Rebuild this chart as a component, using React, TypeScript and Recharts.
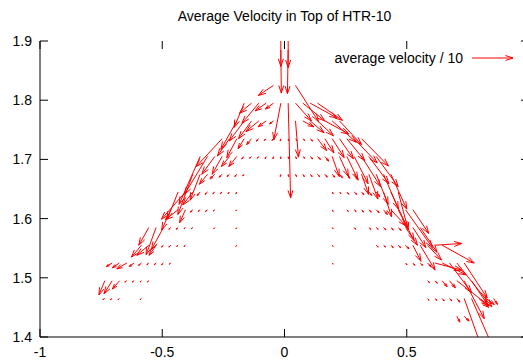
import React from 'react';
import { ComposedChart, XAxis, YAxis, ReferenceLine } from 'recharts';

// each vector: [x, dx, dy] (velocity / 10), grouped by row height
type Vec = [number, number, number];

const xTicks = [-1, -0.5, 0, 0.5];
const yTicks = [1.4, 1.5, 1.6, 1.7, 1.8, 1.9];

const row1915: Vec[] = [[-0.015, 0, -0.058], [0.015, 0, -0.06]];
const row1885: Vec[] = [[-0.015, 0.002, -0.073], [0.015, -0.003, -0.074]];
const row1825: Vec[] = [[-0.045, -0.062, -0.017], [0.045, 0.094, -0.061]];
const row1795: Vec[] = [
  [-0.165, -0.041, -0.041], [-0.135, -0.049, -0.017], [-0.105, -0.069, -0.034],
  [-0.075, -0.045, -0.013], [-0.045, -0.033, -0.01], [-0.015, -0.029, -0.062],
  [0.015, 0.01, -0.16], [0.045, 0.065, -0.03], [0.075, 0.09, -0.03],
  [0.105, 0.11, -0.025], [0.135, 0.102, -0.029],
];
const row1765: Vec[] = [
  [-0.195, -0.065, -0.048], [-0.165, -0.061, -0.034], [-0.135, -0.053, -0.03],
  [-0.105, -0.053, -0.018], [-0.075, -0.033, -0.01], [-0.045, -0.016, -0.005],
  [0.045, 0.012, -0.061], [0.075, 0.045, -0.01], [0.105, 0.057, -0.02],
  [0.135, 0.065, -0.025], [0.165, 0.098, -0.022], [0.195, 0.098, -0.036],
  [0.225, 0.09, -0.04],
];
const row1735: Vec[] = [
  [-0.255, -0.106, -0.047], [-0.225, -0.049, -0.029], [-0.195, -0.041, -0.032],
  [-0.165, -0.025, -0.017], [-0.135, -0.02, -0.01], [-0.105, -0.01, -0.004],
  [-0.075, -0.008, -0.003], [-0.045, -0.006, -0.003], [-0.015, -0.002, -0.004],
  [0.015, 0.002, -0.004], [0.045, 0.006, -0.003], [0.075, 0.008, -0.003],
  [0.105, 0.01, -0.004], [0.135, 0.037, -0.02], [0.165, 0.037, -0.024],
  [0.195, 0.049, -0.032], [0.225, 0.057, -0.034], [0.255, 0.073, -0.037],
  [0.285, 0.094, -0.041], [0.315, 0.11, -0.046],
];
const row1705: Vec[] = [
  [-0.345, -0.086, -0.081], [-0.315, -0.094, -0.064], [-0.285, -0.053, -0.03],
  [-0.255, -0.041, -0.03], [-0.225, -0.033, -0.017], [-0.195, -0.033, -0.017],
  [-0.165, -0.01, -0.004], [-0.135, -0.008, -0.003], [-0.105, -0.006, -0.003],
  [-0.075, -0.004, -0.004], [-0.045, -0.002, -0.004], [-0.015, -0.001, -0.004],
  [0.015, 0.002, -0.004], [0.045, 0.004, -0.004], [0.075, 0.008, -0.003],
  [0.105, 0.01, -0.004], [0.135, 0.012, -0.005], [0.165, 0.016, -0.008],
  [0.195, 0.029, -0.034], [0.225, 0.037, -0.034], [0.255, 0.045, -0.039],
  [0.285, 0.057, -0.046], [0.315, 0.078, -0.051], [0.345, 0.082, -0.046],
  [0.375, 0.09, -0.051],
];
const row1675: Vec[] = [
  [-0.375, -0.061, -0.068], [-0.345, -0.041, -0.044], [-0.315, -0.033, -0.017],
  [-0.285, -0.02, -0.008], [-0.255, -0.012, -0.005], [-0.225, -0.01, -0.004],
  [-0.195, -0.008, -0.004], [-0.165, -0.006, -0.003], [-0.015, -0.002, -0.004],
  [0.015, 0.002, -0.004], [0.045, 0.004, -0.004], [0.075, 0.006, -0.004],
  [0.105, 0.008, -0.004], [0.135, 0.008, -0.004], [0.165, 0.01, -0.005],
  [0.195, 0.01, -0.005], [0.225, 0.012, -0.006], [0.255, 0.012, -0.007],
  [0.285, 0.016, -0.01], [0.315, 0.029, -0.034], [0.345, 0.037, -0.042],
  [0.375, 0.049, -0.051], [0.405, 0.061, -0.059], [0.435, 0.065, -0.059],
];
const row1645: Vec[] = [
  [-0.435, -0.045, -0.046], [-0.405, -0.098, -0.046], [-0.375, -0.041, -0.022],
  [-0.345, -0.012, -0.006], [-0.315, -0.01, -0.004], [-0.285, -0.008, -0.003],
  [-0.255, -0.008, -0.003], [-0.225, -0.006, -0.003], [-0.195, -0.004, -0.003],
  [0.195, 0.004, -0.003], [0.225, 0.006, -0.003], [0.255, 0.008, -0.004],
  [0.285, 0.01, -0.004], [0.315, 0.01, -0.005], [0.345, 0.012, -0.006],
  [0.375, 0.014, -0.008], [0.405, 0.033, -0.042], [0.435, 0.069, -0.062],
  [0.465, 0.041, -0.064],
];
const row1615: Vec[] = [
  [-0.465, -0.037, -0.034], [-0.435, -0.053, -0.017], [-0.405, -0.024, -0.022],
  [-0.375, -0.01, -0.004], [-0.345, -0.008, -0.003], [-0.315, -0.008, -0.003],
  [-0.285, -0.006, -0.002], [-0.195, -0.004, -0.002], [0.195, 0.004, -0.003],
  [0.255, 0.006, -0.003], [0.285, 0.008, -0.003], [0.315, 0.008, -0.004],
  [0.345, 0.01, -0.004], [0.375, 0.012, -0.005], [0.405, 0.016, -0.008],
  [0.435, 0.061, -0.027], [0.465, 0.065, -0.052], [0.495, 0.11, -0.064],
  [0.525, 0.065, -0.04],
];
const row1585: Vec[] = [
  [-0.555, -0.041, -0.03], [-0.525, -0.041, -0.046], [-0.495, -0.049, -0.037],
  [-0.465, -0.008, -0.003], [-0.435, -0.008, -0.003], [-0.405, -0.006, -0.002],
  [-0.375, -0.006, -0.002], [-0.285, -0.004, -0.002], [-0.195, -0.004, -0.002],
  [0.195, 0.004, -0.002], [0.285, 0.006, -0.003], [0.345, 0.008, -0.003],
  [0.375, 0.008, -0.003], [0.405, 0.01, -0.004], [0.435, 0.01, -0.004],
  [0.465, 0.012, -0.005], [0.495, 0.049, -0.03], [0.525, 0.053, -0.034],
  [0.555, 0.069, -0.042],
];
const row1555: Vec[] = [
  [-0.585, -0.041, -0.02], [-0.555, -0.049, -0.017], [-0.525, -0.029, -0.017],
  [-0.495, -0.008, -0.003], [-0.465, -0.008, -0.003], [-0.435, -0.006, -0.002],
  [-0.405, -0.006, -0.002], [-0.195, -0.004, -0.002], [0.195, 0.004, -0.002],
  [0.375, 0.008, -0.003], [0.405, 0.008, -0.003], [0.435, 0.01, -0.004],
  [0.465, 0.01, -0.004], [0.495, 0.014, -0.006], [0.525, 0.033, -0.027],
  [0.555, 0.061, -0.042], [0.585, 0.057, -0.025], [0.615, 0.11, 0.003],
  [0.645, 0.131, -0.03],
];
const row1525: Vec[] = [
  [-0.705, -0.024, -0.006], [-0.675, -0.029, -0.008], [-0.645, -0.041, -0.01],
  [-0.615, -0.02, -0.006], [-0.585, -0.012, -0.004], [-0.555, -0.008, -0.003],
  [-0.525, -0.008, -0.003], [-0.495, -0.008, -0.003], [-0.465, -0.006, -0.002],
  [0.195, 0.004, -0.002], [0.495, 0.006, -0.003], [0.525, 0.008, -0.004],
  [0.555, 0.01, -0.004], [0.585, 0.014, -0.006], [0.615, 0.11, -0.012],
  [0.645, 0.098, -0.02], [0.675, 0.09, -0.05], [0.705, 0.143, -0.074],
  [0.735, 0.094, -0.059],
];
const row1495: Vec[] = [
  [-0.735, -0.024, -0.024], [-0.705, -0.033, -0.022], [-0.675, -0.029, -0.014],
  [-0.645, -0.008, -0.002], [-0.615, -0.008, -0.002], [-0.585, -0.006, -0.002],
  [-0.555, -0.006, -0.002], [0.585, 0.008, -0.003], [0.615, 0.01, -0.004],
  [0.645, 0.02, -0.01], [0.675, 0.024, -0.012], [0.705, 0.131, -0.042],
  [0.735, 0.082, -0.064], [0.765, 0.065, -0.04],
];
const row1465: Vec[] = [
  [-0.735, -0.008, -0.002], [-0.705, -0.008, -0.002], [-0.675, -0.006, -0.002],
  [-0.585, -0.006, -0.002], [0.585, 0.006, -0.003], [0.615, 0.008, -0.003],
  [0.645, 0.008, -0.004], [0.675, 0.01, -0.004], [0.705, 0.012, -0.006],
  [0.735, 0.073, -0.085], [0.765, 0.09, -0.085], [0.795, 0.04, -0.015],
  [0.825, 0.033, -0.01], [0.855, 0.016, -0.01],
];
const row1435: Vec[] = [[0.705, 0.012, -0.01], [0.735, 0.02, -0.008]];

const rows: [number, Vec[]][] = [
  [1.915, row1915], [1.885, row1885], [1.825, row1825], [1.795, row1795],
  [1.765, row1765], [1.735, row1735], [1.705, row1705], [1.675, row1675],
  [1.645, row1645], [1.615, row1615], [1.585, row1585], [1.555, row1555],
  [1.525, row1525], [1.495, row1495], [1.465, row1465], [1.435, row1435],
];

const ARROW = '#ff0000';
const FONT = '"Liberation Sans", Arial, sans-serif';
const TICK = 8;

const arrowPath = (x1: number, y1: number, x2: number, y2: number) => {
  const len = Math.hypot(x2 - x1, y2 - y1);
  const h = Math.min(8, len * 0.5);
  const ang = Math.atan2(y2 - y1, x2 - x1);
  const a = (18 * Math.PI) / 180;
  const ax = x2 - h * Math.cos(ang - a);
  const ay = y2 - h * Math.sin(ang - a);
  const bx = x2 - h * Math.cos(ang + a);
  const by = y2 - h * Math.sin(ang + a);
  return `M${x1},${y1}L${x2},${y2}M${ax},${ay}L${x2},${y2}L${bx},${by}`;
};

const VectorShape = (p: any) => (
  <g clipPath={p.clipPath}>
    <path d={arrowPath(p.x1, p.y1, p.x2, p.y2)} fill="none" stroke={ARROW} strokeWidth={1} />
  </g>
);

// inward tick marks at both ends of a reference line
const XTickShape = (p: any) => {
  const top = Math.min(p.y1, p.y2);
  const bot = Math.max(p.y1, p.y2);
  return (
    <path d={`M${p.x1},${top}v${TICK}M${p.x1},${bot}v${-TICK}`} stroke="#000" strokeWidth={1} />
  );
};
const YTickShape = (p: any) => {
  const l = Math.min(p.x1, p.x2);
  const r = Math.max(p.x1, p.x2);
  return (
    <path d={`M${l},${p.y1}h${TICK}M${r},${p.y1}h${-TICK}`} stroke="#000" strokeWidth={1} />
  );
};

export default function App() {
  const vectors = rows.flatMap(([y, list]) =>
    list.map(([x, dx, dy]) => ({ x, y, dx, dy }))
  );

  return (
    <div style={{ position: 'absolute', left: 0, top: 0, width: 523, height: 360, overflow: 'hidden', background: '#fff' }}>
      <ComposedChart width={545} height={360} margin={{ top: 41, right: 16, bottom: 0, left: 0 }}>
        <XAxis
          type="number"
          dataKey="x"
          domain={[-1, 1]}
          ticks={xTicks}
          allowDataOverflow
          height={23}
          tickLine={false}
          tickSize={0}
          tickMargin={10}
          axisLine={{ stroke: '#000' }}
          tick={{ fill: '#000', fontSize: 14, fontFamily: FONT }}
        />
        <XAxis xAxisId="top" orientation="top" type="number" domain={[-1, 1]} height={0} tick={false} tickLine={false} axisLine={{ stroke: '#000' }} />
        <YAxis
          type="number"
          domain={[1.4, 1.9]}
          ticks={yTicks}
          allowDataOverflow
          width={40}
          tickLine={false}
          tickSize={0}
          tickMargin={8}
          axisLine={{ stroke: '#000' }}
          tick={{ fill: '#000', fontSize: 14, fontFamily: FONT }}
        />
        <YAxis yAxisId="right" orientation="right" type="number" domain={[1.4, 1.9]} width={0} tick={false} tickLine={false} axisLine={{ stroke: '#000' }} />

        {xTicks.map((v) => (
          <ReferenceLine key={`xt${v}`} x={v} ifOverflow="visible" shape={XTickShape} />
        ))}
        {yTicks.map((v) => (
          <ReferenceLine key={`yt${v}`} y={v} ifOverflow="visible" shape={YTickShape} />
        ))}

        {vectors.map((v, i) => (
          <ReferenceLine
            key={i}
            segment={[{ x: v.x, y: v.y }, { x: v.x + v.dx, y: v.y + v.dy }]}
            ifOverflow="hidden"
            shape={VectorShape}
          />
        ))}
      </ComposedChart>

      <svg width={523} height={360} style={{ position: 'absolute', left: 0, top: 0, pointerEvents: 'none' }}>
        <text x={284.5} y={21} textAnchor="middle" fontSize={14} fontFamily={FONT} fill="#000">
          Average Velocity in Top of HTR-10
        </text>
        <text x={463} y={63} textAnchor="end" fontSize={14} fontFamily={FONT} fill="#000">
          average velocity / 10
        </text>
        <path d={arrowPath(472, 58, 513, 58)} fill="none" stroke={ARROW} strokeWidth={1} />
      </svg>
    </div>
  );
}
